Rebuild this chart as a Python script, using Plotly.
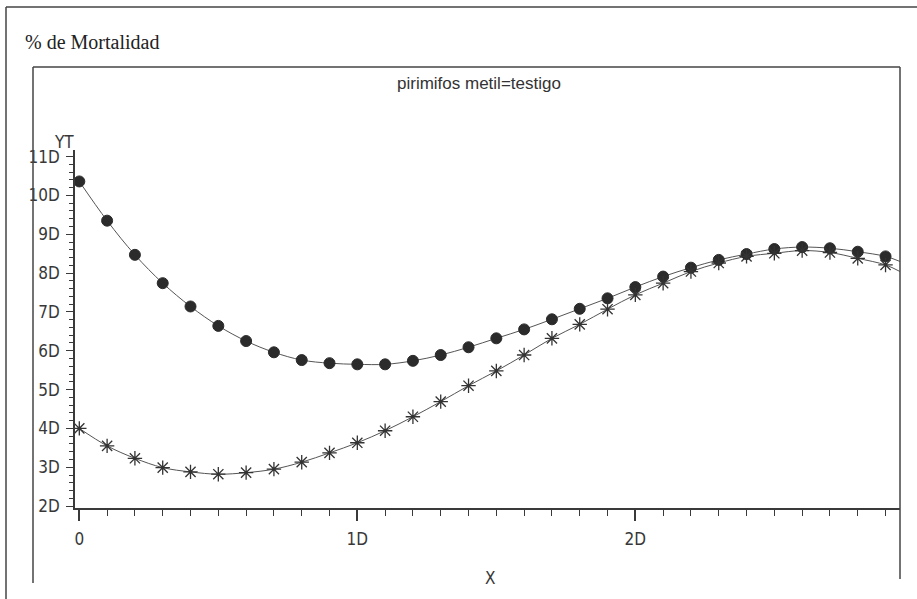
import plotly.graph_objects as go

# ---------------- data ----------------
days = list(range(0, 30))
mort_circle = [103.6, 93.5, 84.7, 77.4, 71.4, 66.4, 62.5, 59.6, 57.6, 56.8,
               56.5, 56.5, 57.4, 58.9, 60.9, 63.2, 65.5, 68.1, 70.8, 73.5,
               76.4, 79.1, 81.4, 83.4, 84.9, 86.2, 86.7, 86.4, 85.5, 84.3]
mort_star = [40.0, 35.5, 32.3, 29.9, 28.8, 28.2, 28.6, 29.5, 31.3, 33.7,
             36.3, 39.4, 43.0, 46.9, 51.0, 54.8, 58.9, 63.2, 66.8, 70.7,
             74.4, 77.4, 80.4, 82.6, 84.3, 85.1, 85.8, 85.3, 83.8, 82.1]
# fitted curves continue to the right edge of the frame
curve_end_x = 29.52
curve_end_circle = 83.0
curve_end_star = 80.4

x_ticks = [0, 10, 20]
x_ticklabels = ["0", "1D", "2D"]
y_ticks = [20, 30, 40, 50, 60, 70, 80, 90, 100, 110]
y_ticklabels = ["2D", "3D", "4D", "5D", "6D", "7D", "8D", "9D", "10D", "11D"]

title_text = "% de Mortalidad"
panel_text = "pirimifos metil=testigo"
y_label = "YT"
x_label = "X"

# ---------------- layout geometry (pixels) ----------------
FW, FH = 917, 599
L, R, T, B = 75, 900, 150, 508
W, H = R - L, B - T

def px(p):
    return (p - L) / W

def py(p):
    return (B - p) / H

tick_font = dict(family="Liberation Sans Narrow, DejaVu Sans Condensed, Arial Narrow, sans-serif",
                 size=17, color="#383838")
ink = "#3a3a3a"

fig = go.Figure()

fig.add_trace(go.Scatter(
    x=days + [curve_end_x], y=mort_circle + [curve_end_circle],
    mode="lines", line=dict(color="#555555", width=1, shape="spline"),
    hoverinfo="skip", showlegend=False))
fig.add_trace(go.Scatter(
    x=days + [curve_end_x], y=mort_star + [curve_end_star],
    mode="lines", line=dict(color="#555555", width=1, shape="spline"),
    hoverinfo="skip", showlegend=False))
fig.add_trace(go.Scatter(
    x=days, y=mort_circle, mode="markers", name="testigo (●)",
    marker=dict(symbol="circle", size=11, color="#2b2b2b",
                line=dict(color="#2b2b2b", width=1)),
    showlegend=False))
fig.add_trace(go.Scatter(
    x=days, y=mort_star, mode="markers", name="pirimifos metil (*)",
    marker=dict(symbol="asterisk-open", size=12, color="#333333",
                line=dict(color="#333333", width=1.3)),
    showlegend=False))

fig.update_xaxes(
    range=[-0.155, 29.52], showgrid=False, zeroline=False,
    showline=True, linecolor=ink, linewidth=1.5,
    tickmode="array", tickvals=x_ticks, ticktext=x_ticklabels,
    ticks="outside", ticklen=11, tickwidth=1.5, tickcolor=ink,
    minor=dict(dtick=1, tick0=0, ticks="outside", ticklen=6, tickwidth=1.3, tickcolor=ink),
    tickfont=tick_font, ticklabelstandoff=4)
fig.update_yaxes(
    range=[19.5, 111.7], showgrid=False, zeroline=False,
    showline=True, linecolor=ink, linewidth=1.5,
    tickmode="array", tickvals=y_ticks, ticktext=y_ticklabels,
    ticks="outside", ticklen=7, tickwidth=1.3, tickcolor=ink,
    minor=dict(dtick=2, tick0=0, ticks="outside", ticklen=4, tickwidth=1, tickcolor=ink),
    tickfont=tick_font, ticklabelstandoff=3)

line_style = dict(color="#444444", width=1.5)
shapes = [
    # outer frame (top + left)
    dict(type="line", xref="paper", yref="paper", x0=px(6), y0=py(7), x1=px(917), y1=py(7), line=line_style),
    dict(type="line", xref="paper", yref="paper", x0=px(6), y0=py(7), x1=px(6), y1=py(599), line=line_style),
    # inner panel (top, left, right)
    dict(type="line", xref="paper", yref="paper", x0=px(33), y0=py(67), x1=px(900), y1=py(67), line=line_style),
    dict(type="line", xref="paper", yref="paper", x0=px(33), y0=py(67), x1=px(33), y1=py(583), line=line_style),
    dict(type="line", xref="paper", yref="paper", x0=px(900), y0=py(67), x1=px(900), y1=py(579), line=line_style),
]

annotations = [
    dict(text=title_text, xref="paper", yref="paper", x=px(23), y=py(42),
         xanchor="left", yanchor="middle", showarrow=False,
         font=dict(family="Liberation Serif, Times New Roman, serif", size=20, color="#222222")),
    dict(text=panel_text, xref="paper", yref="paper", x=px(479), y=py(84),
         xanchor="center", yanchor="middle", showarrow=False,
         font=dict(family="Liberation Sans, Arial, sans-serif", size=17, color="#333333")),
    dict(text=y_label, xref="paper", yref="paper", x=px(64), y=py(142),
         xanchor="center", yanchor="middle", showarrow=False, font=tick_font),
    dict(text=x_label, xref="paper", yref="paper", x=px(490), y=py(578),
         xanchor="center", yanchor="middle", showarrow=False, font=tick_font),
]

fig.update_layout(
    width=FW, height=FH,
    margin=dict(l=L, r=FW - R, t=T, b=FH - B, pad=0),
    paper_bgcolor="white", plot_bgcolor="white",
    shapes=shapes, annotations=annotations,
    showlegend=False)

fig.write_html("out.html",
               config={"displayModeBar": False},
               post_script="document.body.style.margin='0';document.body.style.overflow='hidden';")
